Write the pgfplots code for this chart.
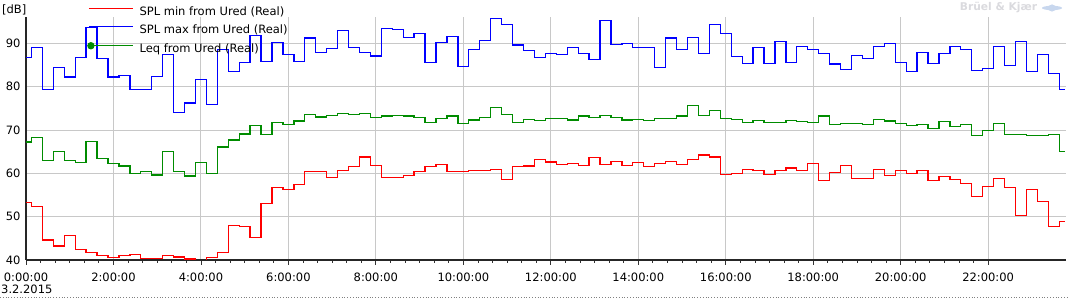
\documentclass[border=0pt]{standalone}
\usepackage{pgfplots}
\pgfplotsset{compat=1.18}
\usepackage{pgfplotstable}
\usepackage{fontspec}
\setmainfont{DejaVu Sans}
\definecolor{cred}{RGB}{255,0,0}
\definecolor{cblue}{RGB}{0,0,255}
\definecolor{cgreen}{RGB}{0,140,0}
\definecolor{gridc}{RGB}{200,200,200}
\definecolor{wmark}{RGB}{218,218,222}
\definecolor{wlogo}{RGB}{200,215,238}
\pgfplotsset{
  lineimg/.style={legend image code/.code={\draw[##1] (0pt,4.2pt) -- (44pt,4.2pt);}},
  leqimg/.style={legend image code/.code={\draw[##1] (2pt,4.2pt) -- (44pt,4.2pt); \fill[cgreen] (2pt,4.2pt) circle (3pt);}},
}
\pgfplotstableread{
t min max leq
0.00 53.2 86.8 67.2
0.25 52.4 89.1 68.2
0.50 44.6 79.4 63.0
0.75 43.2 84.5 65.1
1.00 45.7 82.2 63.0
1.25 42.5 86.8 62.5
1.50 41.8 93.7 67.4
1.75 41.1 86.5 63.5
2.00 40.6 82.2 62.3
2.25 41.1 82.6 61.7
2.50 41.3 79.4 60.0
2.75 40.4 79.4 60.5
3.00 40.4 82.4 59.6
3.25 41.1 87.5 65.1
3.50 40.7 74.1 60.5
3.75 40.2 76.2 59.4
4.00 39.9 81.7 62.5
4.25 40.6 75.9 60.0
4.50 41.8 88.5 66.1
4.75 47.9 83.5 67.7
5.00 47.7 85.5 69.1
5.25 45.2 91.8 71.1
5.50 53.1 85.8 69.0
5.75 56.8 90.2 71.8
6.00 56.3 87.5 71.3
6.25 57.4 85.8 72.1
6.50 60.5 91.2 73.6
6.75 60.5 87.9 73.0
7.00 59.1 88.8 73.4
7.25 60.7 93.0 73.8
7.50 61.5 89.1 73.5
7.75 63.8 87.9 73.8
8.00 61.8 87.1 72.9
8.25 59.1 93.5 73.2
8.50 59.1 93.2 73.4
8.75 59.5 91.4 73.2
9.00 60.4 92.3 72.9
9.25 61.5 85.6 71.8
9.50 62.1 90.2 72.7
9.75 60.5 91.6 73.2
10.00 60.4 84.7 71.5
10.25 60.6 88.6 72.3
10.50 60.7 90.7 72.9
10.75 60.9 95.8 75.2
11.00 58.6 94.4 73.6
11.25 61.5 89.6 71.8
11.50 61.7 88.4 72.5
11.75 63.2 86.8 72.2
12.00 62.6 87.7 72.7
12.25 62.1 87.5 72.7
12.50 62.3 89.1 72.3
12.75 61.8 87.7 73.2
13.00 63.7 86.3 72.9
13.25 62.1 95.3 73.4
13.50 62.8 89.8 72.9
13.75 61.8 90.0 72.3
14.00 62.5 89.1 72.5
14.25 61.5 89.1 72.2
14.50 62.3 84.5 72.7
14.75 62.8 91.2 72.7
15.00 62.1 88.6 73.2
15.25 63.2 91.4 75.7
15.50 64.2 87.7 73.4
15.75 63.8 94.4 74.5
16.00 59.8 92.3 72.7
16.25 60.0 87.0 72.5
16.50 60.9 85.4 71.8
16.75 60.7 89.1 72.2
17.00 59.8 85.4 71.8
17.25 60.7 90.5 71.8
17.50 61.2 85.6 72.2
17.75 60.7 89.3 72.0
18.00 62.3 88.6 71.8
18.25 58.4 87.7 73.2
18.50 60.2 85.2 71.3
18.75 61.8 84.0 71.5
19.00 58.8 87.2 71.5
19.25 58.8 86.5 71.3
19.50 60.9 89.3 72.5
19.75 59.5 90.0 72.1
20.00 60.6 85.6 71.5
20.25 60.0 83.5 71.1
20.50 60.6 87.9 71.3
20.75 58.4 85.4 70.4
21.00 59.3 87.7 72.0
21.25 58.6 89.3 70.8
21.50 57.7 88.6 71.3
21.75 54.7 83.8 68.8
22.00 57.0 84.2 69.9
22.25 58.8 89.3 71.5
22.50 56.8 84.9 69.0
22.75 50.3 90.5 69.0
23.00 56.2 83.5 68.8
23.25 53.5 87.5 68.8
23.50 47.8 83.1 69.0
23.75 48.9 79.4 65.1
}\datatable
\begin{document}
\begin{tikzpicture}[font=\fontsize{11.5}{13.8}\selectfont]
\begin{axis}[
  name=ax,
  scale only axis, width=1040pt, height=243.1pt,
  xmin=0, xmax=23.78, ymin=40, ymax=96.1,
  axis x line=bottom, axis y line=left,
  axis line style={-, black!85, line width=1.3pt},
  xtick={0,2,...,22},
  xticklabels={0:00:00,2:00:00,4:00:00,6:00:00,8:00:00,10:00:00,12:00:00,14:00:00,16:00:00,18:00:00,20:00:00,22:00:00},
  xticklabel style={yshift=-4pt},
  yticklabel style={xshift=3pt},
  minor x tick num=5,
  ytick={40,50,...,90},
  grid=major, major grid style={gridc, line width=0.9pt},
  tick align=outside, major tick length=5pt, minor tick length=3pt,
  xtick style={black!80, line width=0.8pt},
  ytick style={draw=none},
  /pgf/number format/assume math mode=true,
  legend style={at={(axis description cs:0.0587,1.0428)}, anchor=north west, draw=none, fill=none, inner sep=0pt, row sep=5.7pt, column sep=6pt, nodes={inner sep=0pt, text height=9pt, text depth=3pt}},
  legend cell align=left,
  lineimg,
]
\addplot[cred, line width=1.3pt, const plot mark mid] table[x=t, y=min] {\datatable};
\addlegendentry{SPL min from Ured (Real)}
\addplot[cblue, line width=1.3pt, const plot mark mid] table[x=t, y=max] {\datatable};
\addlegendentry{SPL max from Ured (Real)}
\addplot[cgreen, line width=1.3pt, const plot mark mid, leqimg] table[x=t, y=leq] {\datatable};
\addlegendentry{Leq from Ured (Real)}
\end{axis}
\node[anchor=west, inner sep=0pt] at ([shift={(-24pt,250pt)}]ax.south west) {[dB]};
\node[anchor=west, inner sep=0pt] at ([shift={(-25pt,-29.5pt)}]ax.south west) {3.2.2015};
\node[anchor=center, inner sep=0pt, text=wmark, font=\fontsize{10.7}{12}\selectfont\bfseries] at ([shift={(972.5pt,252pt)}]ax.south west) {Brüel \& Kjær};
\fill[wlogo] ([shift={(1026pt,252pt)}]ax.south west) ellipse (10pt and 2.2pt);
\fill[wlogo] ([shift={(1026pt,252pt)}]ax.south west) circle (3.6pt);
\draw[gray, dotted, line width=0.8pt] ([shift={(-26pt,-37.5pt)}]ax.south west) -- ([shift={(1043pt,-37.5pt)}]ax.south west);
\pgfresetboundingbox
\path[use as bounding box] ([shift={(-26pt,-39pt)}]ax.south west) rectangle ([shift={(1043pt,260pt)}]ax.south west);
\end{tikzpicture}
\end{document}
